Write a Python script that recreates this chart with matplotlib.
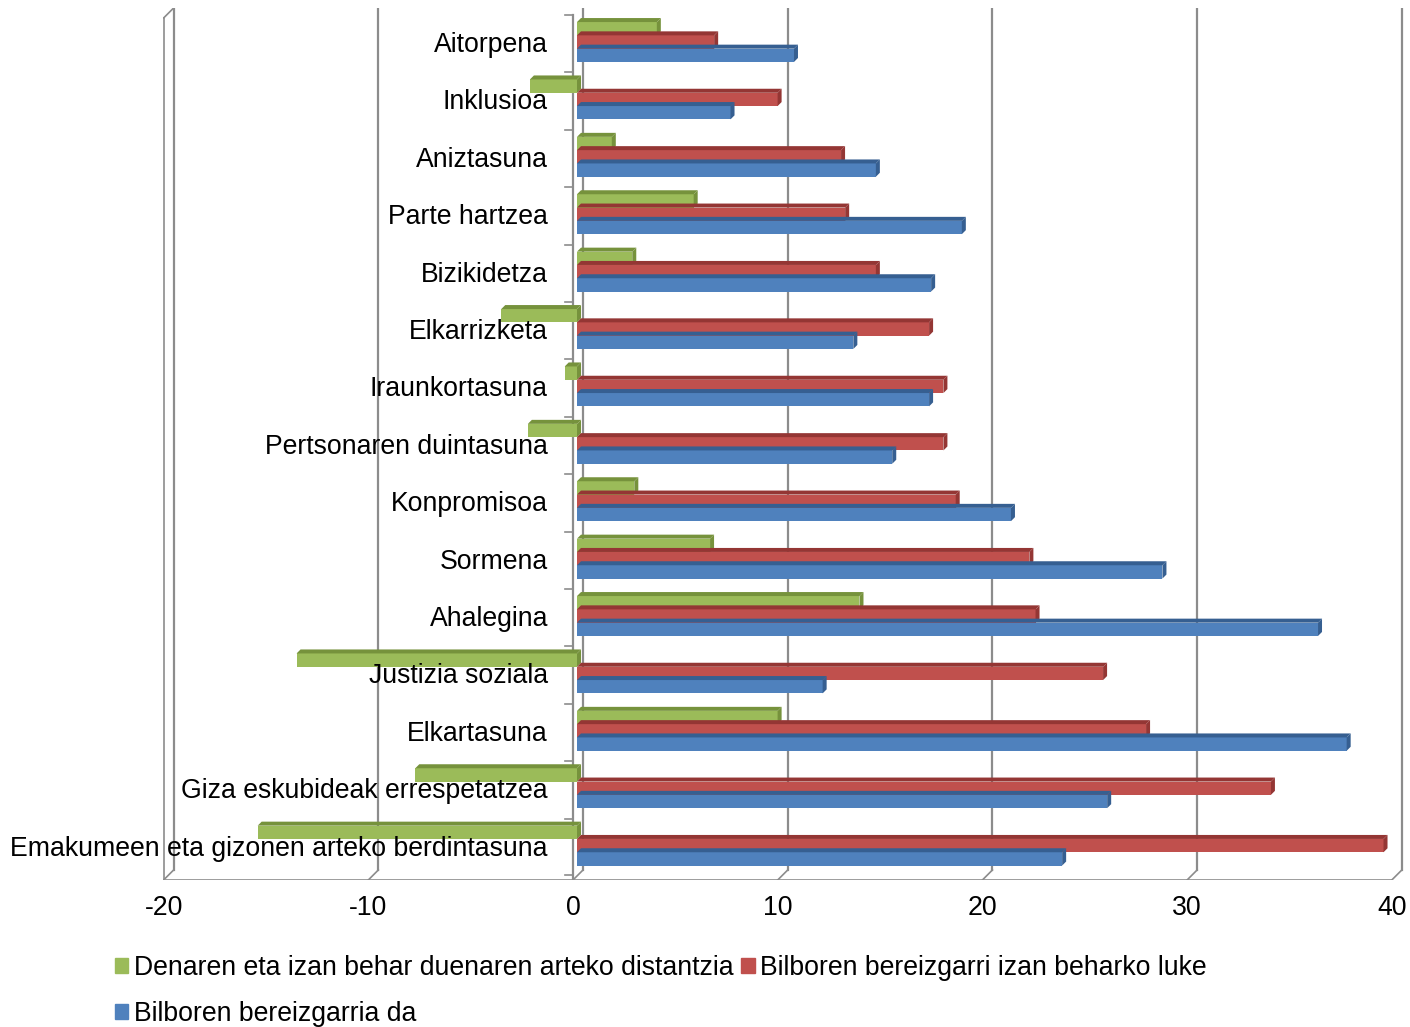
import matplotlib
matplotlib.use('Agg')
from matplotlib import pyplot as plt  # noqa
from matplotlib.patches import Polygon, Patch

plt.rcParams['font.family'] = ['Liberation Sans', 'DejaVu Sans']

categories = ['Aitorpena', 'Inklusioa', 'Aniztasuna', 'Parte hartzea',
              'Bizikidetza', 'Elkarrizketa', 'Iraunkortasuna',
              'Pertsonaren duintasuna', 'Konpromisoa', 'Sormena',
              'Ahalegina', 'Justizia soziala', 'Elkartasuna',
              'Giza eskubideak errespetatzea',
              'Emakumeen eta gizonen arteko berdintasuna']

distance = [3.9, -2.3, 1.7, 5.7, 2.7, -3.7, -0.6, -2.4, 2.8, 6.5,
            13.8, -13.7, 9.8, -7.9, -15.6]
should_be = [6.7, 9.8, 12.9, 13.1, 14.6, 17.2, 17.9, 17.9, 18.5, 22.1,
             22.4, 25.7, 27.8, 33.9, 39.4]
is_now = [10.6, 7.5, 14.6, 18.8, 17.3, 13.5, 17.2, 15.4, 21.2, 28.6,
          36.2, 12.0, 37.6, 25.9, 23.7]

series_names = ['Denaren eta izan behar duenaren arteko distantzia',
                'Bilboren bereizgarri izan beharko luke',
                'Bilboren bereizgarria da']
x_ticks = [-20, -10, 0, 10, 20, 30, 40]

COLORS = ['#9BBB59', '#C0504D', '#4F81BD']
DARK = ['#76923C', '#943634', '#365F91']

PX_X = 20.47   # pixels per unit on x
PX_Y = 57.4    # pixels per category
FS = 19.2

fig = plt.figure(figsize=(14.1, 10.27), dpi=100)
W, H = 1410, 1027
left_px, right_px, top_px, bot_px = 163, 1404, 8, 880
ax = fig.add_axes([left_px / W, 1 - bot_px / H,
                   (right_px - left_px) / W, (bot_px - top_px) / H])
zero_px = 577
ax.set_xlim((left_px - zero_px) / PX_X, (right_px - zero_px) / PX_X)
ax.set_ylim((bot_px - 42) / PX_Y, (top_px - 42) / PX_Y)
ax.axis('off')

ux = 1.0 / PX_X
uy = 1.0 / PX_Y
front_dx = -4 * ux
back_dx = 6 * ux
floor_front = (880 - 42) * uy
floor_back = (870 - 42) * uy
wall_top = (8 - 42) * uy
gcol = '#8C8C8C'

# back wall gridlines and floor
for t in x_ticks:
    xb = t + back_dx
    ax.plot([xb, xb], [wall_top, floor_back], color=gcol, lw=1.6, zorder=1)
    ax.plot([t + front_dx, xb], [floor_front, floor_back], color=gcol,
            lw=1.2, zorder=1)
    ax.text(t + front_dx, floor_front + 28 * uy, str(t), ha='center',
            va='center', fontsize=FS)
ax.plot([x_ticks[0] + front_dx, x_ticks[-1] + front_dx],
        [floor_front, floor_front], color=gcol, lw=1.2, zorder=1)
ax.plot([x_ticks[0] + front_dx, x_ticks[0] + front_dx],
        [floor_front, (18 - 42) * uy], color=gcol, lw=1.2, zorder=1)
ax.plot([x_ticks[0] + front_dx, x_ticks[0] + back_dx],
        [(18 - 42) * uy, wall_top], color=gcol, lw=1.2, zorder=1)

# vertical category axis with tick marks
ax.plot([front_dx, front_dx], [(15 - 42) * uy, floor_front], color=gcol,
        lw=1.6, zorder=2)
for k in range(len(categories) + 1):
    yk = (15 - 42) * uy + k if k < len(categories) else floor_front - 5 * uy
    ax.plot([front_dx - 8 * ux, front_dx], [yk, yk], color=gcol, lw=1.2,
            zorder=2)

bh = 13.3 * uy
ddx = 4 * ux
ddy = 4 * uy


def bar3d(y, v, i):
    x0, x1 = min(0, v), max(0, v)
    ax.barh(y, v, height=bh, color=COLORS[i], edgecolor='none', zorder=3)
    yt = y - bh / 2
    yb = y + bh / 2
    top = Polygon([(x0, yt), (x0 + ddx, yt - ddy), (x1 + ddx, yt - ddy),
                   (x1, yt)], closed=True, facecolor=DARK[i],
                  edgecolor='none', zorder=3)
    side = Polygon([(x1, yt), (x1 + ddx, yt - ddy), (x1 + ddx, yb - ddy),
                    (x1, yb)], closed=True, facecolor=DARK[i],
                   edgecolor='none', zorder=3)
    ax.add_patch(top)
    ax.add_patch(side)


for c, name in enumerate(categories):
    for i, vals in enumerate([distance, should_be, is_now]):
        bar3d(c + (i - 1) * bh, vals[c], i)
    ax.text(-29 * ux, c + 3 * uy, name, ha='right', va='center',
            fontsize=FS, zorder=5)

handles = [Patch(color=COLORS[0]), Patch(color=COLORS[2]),
           Patch(color=COLORS[1])]
labels = [series_names[0], series_names[2], series_names[1]]
fig.legend(handles, labels, loc='upper left', ncol=2,
           bbox_to_anchor=(115 / W, 1 - 955 / H), frameon=False,
           fontsize=FS, handlelength=0.5, handleheight=0.5,
           handletextpad=0.2, columnspacing=0.3, labelspacing=0.75,
           borderpad=0, borderaxespad=0)

fig.savefig('out.png', dpi=100)
